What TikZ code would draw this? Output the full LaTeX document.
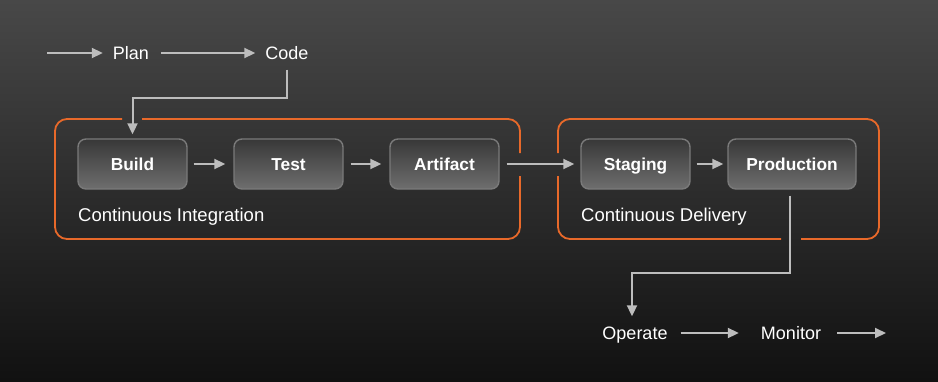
\documentclass[tikz,border=0pt]{standalone}
\usepackage{fontspec}
\setmainfont{Liberation Sans}
\usetikzlibrary{arrows.meta,positioning}
\definecolor{bgtop}{HTML}{484848}
\definecolor{bgbottom}{HTML}{111111}
\definecolor{framecol}{HTML}{E8692A}
\definecolor{arrowcol}{HTML}{BDBDBD}
\definecolor{boxtop}{HTML}{383838}
\definecolor{boxbottom}{HTML}{6E6E6E}
\definecolor{boxline}{HTML}{7A7A7A}
\tikzset{
  flow/.style={draw=arrowcol, line width=2pt, -{Triangle[length=11pt,width=10pt]}},
  stagebox/.style={draw=boxline, line width=1.4pt, rounded corners=8pt,
    top color=boxtop, bottom color=boxbottom, minimum width=109pt,
    minimum height=50pt, text=white, text height=12.4pt, text depth=0pt,
    font=\fontsize{17.3}{20}\selectfont\bfseries},
  steplabel/.style={text=white, font=\fontsize{18}{21}\selectfont,
    text height=13pt, text depth=0pt, inner xsep=10pt, inner ysep=10pt},
  framelabel/.style={text=white, font=\fontsize{18.5}{22}\selectfont,
    anchor=west, inner sep=0pt, text height=13.2pt, text depth=0pt},
  frameline/.style={draw=framecol, line width=1.8pt, rounded corners=12pt},
}
\begin{document}
\begin{tikzpicture}[x=1pt,y=-1pt]
  % Fundo
  \shade[top color=bgtop, bottom color=bgbottom] (0,0) rectangle (938,381);
  \useasboundingbox (0,0) rectangle (938,381);
  % Molduras CI / CD (com aberturas)
  \draw[frameline] (142,119) -| (520,153);
  \draw[frameline] (520,176) |- (55,239) |- (122,119);
  \draw[frameline] (558,153) |- (879,119) |- (801,239);
  \draw[frameline] (781,239) -| (558,176);
  % Etapas superiores
  \coordinate (start) at (47,53);
  \node[steplabel] (plan) at (131,53) {Plan};
  \node[steplabel] (code) at (287,53) {Code};
  % Etapas do pipeline
  \node[stagebox] (build) at (132.5,164) {Build};
  \node[stagebox] (test) at (288.5,164) {Test};
  \node[stagebox] (artifact) at (444.5,164) {Artifact};
  \node[stagebox] (staging) at (635.5,164) {Staging};
  \node[stagebox, minimum width=128pt] (production) at (792,164) {Production};
  \node[framelabel] (cilabel) at (78,215) {Continuous Integration};
  \node[framelabel] (cdlabel) at (581,215) {Continuous Delivery};
  % Etapas inferiores
  \node[steplabel] (operate) at (635,333) {Operate};
  \node[steplabel] (monitor) at (791,333) {Monitor};
  \coordinate (finish) at (886,333);
  % Conexões
  \draw[flow] (start) -- (plan);
  \draw[flow, shorten <=2pt] (plan) -- (code);
  \coordinate (codebend) at (287,98);
  \draw[flow, shorten >=4pt] (code.south) -- (codebend) -| (build.north);
  \draw[flow, shorten <=6pt, shorten >=8pt] (build) -- (test);
  \draw[flow, shorten <=7pt, shorten >=8pt] (test) -- (artifact);
  \draw[flow, shorten <=7pt, shorten >=6pt] (artifact) -- (staging);
  \draw[flow, shorten <=6pt, shorten >=4pt] (staging) -- (production);
  \coordinate (prodbend) at (790,273);
  \draw[flow, shorten <=6pt] (production.south -| prodbend) -- (prodbend) -| ([xshift=-3pt]operate.north);
  \draw[flow, shorten <=3pt, shorten >=12pt] (operate) -- (monitor);
  \draw[flow, shorten <=6pt] (monitor) -- (finish);
\end{tikzpicture}
\end{document}
